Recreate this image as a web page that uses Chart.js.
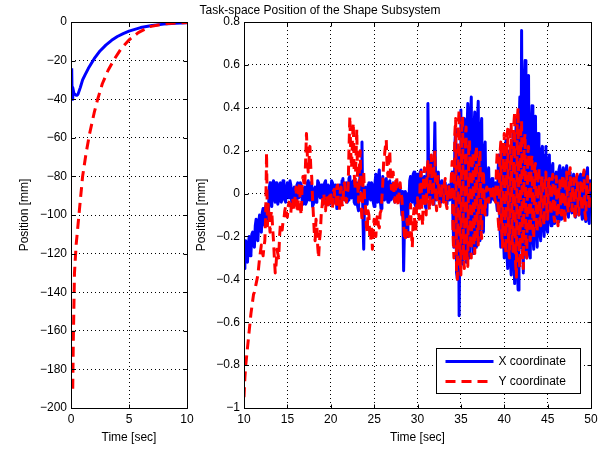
<!DOCTYPE html>
<html>
<head>
<meta charset="utf-8">
<script src="https://cdn.jsdelivr.net/npm/chart.js@4.4.1/dist/chart.umd.min.js"></script>
<style>
  body { margin: 0; background: #fff; }
  #wrap { position: relative; width: 611px; height: 450px; overflow: hidden; }
  #title { position: absolute; left: 0; top: 3px; width: 640px; text-align: center;
           font: 12px "Liberation Sans", Arial, sans-serif; line-height: 14px; color: #000; }
  #left { position: absolute; left: 0; top: 0; }
  #right { position: absolute; left: 160px; top: 0; }
</style>
</head>
<body>
<div id="wrap">
  <canvas id="left" width="200" height="450"></canvas>
  <canvas id="right" width="451" height="450"></canvas>
  <div id="title">Task-space Position of the Shape Subsystem</div>
</div>
<script>
// --- left panel: start-up transient (0..10 s) ---
var leftXTime = [0.06, 0.1, 0.15, 0.25, 0.4, 0.5, 0.6, 0.8, 1.0, 1.2, 1.5, 2.0, 2.5, 3.0, 3.5, 4.0, 4.5, 5.0, 6.0, 7.0, 8.0, 9.0, 10.0];
var leftX = [-24, -40, -34, -37, -37.8, -38, -37.5, -34, -30, -27.5, -24, -19, -15, -12, -9.5, -7.5, -6, -4.7, -2.9, -1.8, -1.1, -0.7, -0.4];

var leftYTime = [0.15, 0.2, 0.3, 0.45, 0.7, 1.0, 1.3, 1.6, 2.0, 2.3, 2.7, 3.2, 3.7, 4.3, 5.0, 5.8, 6.8, 8.0, 9.0, 10.0];
var leftY = [-190, -165, -130, -115, -99, -80, -68, -58, -47, -40, -32, -25, -19.6, -14, -9.3, -5.5, -2.4, -1, -0.5, -0.2];

// --- right panel: 10..50 s, one sample every 0.1 s (one row = one second) ---
var rightStart = 10;
var rightStep = 0.1;
var rightX = [
  -0.35, -0.26, -0.22, -0.31, -0.32, -0.24, -0.20, -0.29, -0.28, -0.19,
  -0.18, -0.24, -0.25, -0.15, -0.12, -0.21, -0.22, -0.13, -0.10, -0.17,
  -0.18, -0.09, -0.07, -0.14, -0.15, -0.06, -0.05, -0.11, -0.12, 0.02,
  0.05, -0.04, -0.06, 0.03, 0.06, -0.02, -0.04, 0.05, 0.04, -0.05,
  -0.03, 0.04, 0.05, -0.04, -0.02, 0.06, 0.04, -0.03, -0.04, 0.03,
  0.05, -0.01, -0.02, 0.06, 0.04, -0.04, -0.05, 0.02, 0.03, -0.04,
  -0.03, 0.04, 0.05, -0.02, -0.01, 0.05, 0.04, -0.03, -0.05, 0.02,
  0.03, -0.05, -0.04, 0.05, 0.06, -0.03, -0.02, 0.05, 0.04, -0.06,
  -0.05, 0.02, 0.03, -0.04, -0.03, 0.06, 0.05, -0.01, -0.02, 0.04,
  0.04, -0.05, -0.03, 0.05, 0.06, -0.02, -0.04, 0.04, 0.03, -0.05,
  -0.02, 0.06, 0.05, -0.03, -0.04, 0.04, 0.03, -0.07, -0.06, 0.02,
  0.04, -0.03, -0.02, 0.06, 0.07, -0.01, -0.03, 0.04, 0.05, -0.04,
  -0.03, 0.07, 0.08, -0.01, -0.02, 0.05, 0.06, -0.04, -0.05, 0.03,
  0.05, -0.06, -0.08, 0.04, 0.10, 0.02, 0.24, -0.10, -0.26, -0.02,
  0.03, -0.04, -0.05, 0.04, 0.05, -0.02, -0.03, 0.05, 0.04, -0.04,
  -0.06, 0.05, 0.09, -0.02, -0.04, 0.08, 0.11, -0.03, -0.07, 0.04,
  0.08, -0.02, -0.03, 0.06, 0.07, -0.02, -0.04, 0.05, 0.06, -0.03,
  -0.02, 0.04, 0.05, -0.03, -0.04, 0.05, 0.06, -0.02, -0.03, 0.04,
  0.02, -0.04, -0.10, 0.01, -0.36, -0.15, 0.01, -0.08, -0.20, 0.00,
  -0.05, 0.06, 0.08, -0.03, -0.04, 0.09, 0.10, -0.05, -0.06, 0.07,
  0.09, -0.04, -0.05, 0.10, 0.11, -0.02, -0.03, 0.06, 0.08, -0.06,
  -0.07, 0.10, 0.42, 0.05, -0.02, 0.12, 0.15, -0.03, -0.05, 0.10,
  0.33, 0.02, -0.03, 0.08, 0.10, -0.02, -0.04, 0.05, 0.06, -0.02,
  -0.03, 0.04, 0.05, -0.04, -0.05, 0.03, 0.04, -0.03, -0.02, 0.06,
  0.10, -0.15, -0.25, 0.22, 0.30, -0.37, -0.40, 0.20, -0.57, -0.10,
  0.39, -0.25, -0.33, 0.30, 0.35, -0.20, -0.32, 0.28, 0.42, -0.15,
  -0.30, 0.35, 0.45, -0.18, -0.28, 0.30, 0.38, -0.20, -0.25, 0.32,
  0.43, -0.15, -0.22, 0.30, 0.35, -0.12, -0.18, 0.20, 0.24, -0.08,
  -0.10, 0.08, 0.12, -0.02, -0.04, 0.06, 0.07, -0.02, -0.03, 0.04,
  0.05, -0.04, -0.08, 0.12, 0.18, -0.15, -0.25, 0.15, 0.22, -0.20,
  -0.30, 0.18, 0.25, -0.28, -0.35, 0.15, 0.20, -0.30, -0.38, 0.22,
  0.28, -0.30, -0.42, 0.25, 0.35, -0.35, -0.45, 0.30, 0.45, -0.25,
  0.76, -0.20, -0.37, 0.50, 0.62, -0.22, -0.30, 0.45, 0.55, -0.28,
  -0.30, 0.30, 0.41, -0.20, -0.26, 0.30, 0.36, -0.18, -0.25, 0.28,
  0.24, -0.18, -0.22, 0.20, 0.22, -0.15, -0.20, 0.18, 0.22, -0.16,
  -0.18, 0.15, 0.18, -0.12, -0.15, 0.12, 0.14, -0.10, -0.14, 0.08,
  0.10, -0.10, -0.13, 0.11, 0.13, -0.08, -0.12, 0.10, 0.12, -0.08,
  -0.10, 0.10, 0.13, -0.08, -0.11, 0.08, 0.10, -0.07, -0.09, 0.07,
  0.09, -0.08, -0.11, 0.06, 0.08, -0.07, -0.10, 0.07, 0.09, -0.08,
  -0.12, 0.08, 0.10, -0.10, -0.13, 0.09, 0.12, -0.11, -0.14, 0.06,
  0.02
];
var rightY = [
  -0.95, -0.86, -0.80, -0.76, -0.72, -0.68, -0.64, -0.60, -0.56, -0.53,
  -0.50, -0.47, -0.46, -0.44, -0.42, -0.40, -0.38, -0.34, -0.30, -0.27,
  -0.24, -0.27, -0.29, -0.25, -0.22, -0.10, 0.19, -0.15, -0.05, -0.12,
  -0.18, -0.10, -0.08, -0.16, -0.22, -0.30, -0.37, -0.33, -0.26, -0.28,
  -0.30, -0.20, -0.14, -0.16, -0.17, -0.13, -0.12, -0.08, -0.06, -0.09,
  -0.11, -0.06, -0.04, -0.08, -0.09, -0.03, -0.02, -0.06, -0.08, -0.01,
  0.03, -0.06, -0.09, 0.02, 0.05, -0.07, -0.10, 0.04, 0.08, 0.05,
  0.03, 0.15, 0.28, 0.18, 0.10, 0.16, 0.22, 0.12, 0.08, -0.02,
  -0.10, -0.18, -0.22, -0.12, -0.15, -0.25, -0.30, -0.22, -0.18, -0.10,
  -0.06, -0.01, 0.00, -0.06, -0.08, -0.01, -0.02, -0.07, -0.06, 0.00,
  0.01, -0.05, -0.07, 0.01, 0.02, -0.04, -0.05, 0.03, 0.04, -0.05,
  -0.08, 0.01, 0.03, -0.05, -0.06, 0.04, 0.05, -0.02, -0.04, 0.00,
  0.02, 0.20, 0.36, 0.20, 0.12, 0.25, 0.33, 0.10, 0.02, 0.15,
  0.30, 0.05, -0.04, 0.12, 0.20, -0.05, -0.13, 0.03, 0.10, -0.02,
  -0.06, -0.15, -0.18, -0.08, -0.10, -0.20, -0.22, -0.15, -0.26, -0.16,
  -0.12, -0.18, -0.20, -0.12, -0.10, -0.15, -0.16, -0.09, -0.08, -0.02,
  0.05, 0.15, 0.18, 0.22, 0.25, 0.12, 0.08, 0.16, 0.20, 0.08,
  0.02, 0.08, 0.10, -0.02, -0.04, 0.06, 0.08, -0.03, -0.06, 0.02,
  0.05, 0.00, -0.02, -0.10, -0.15, -0.20, -0.22, -0.16, -0.12, -0.18,
  -0.20, -0.10, -0.05, -0.18, -0.25, -0.12, -0.07, -0.15, -0.18, -0.06,
  -0.02, -0.08, -0.12, 0.05, 0.10, -0.10, -0.15, 0.08, 0.12, -0.05,
  -0.10, 0.10, 0.15, -0.04, -0.08, 0.12, 0.18, -0.02, -0.05, 0.12,
  0.20, -0.02, -0.08, 0.05, 0.08, -0.04, -0.06, 0.04, 0.05, -0.03,
  -0.04, 0.05, 0.07, -0.05, -0.07, 0.03, 0.04, -0.02, -0.03, 0.08,
  0.15, -0.20, -0.30, 0.28, 0.35, -0.35, -0.40, 0.32, 0.39, -0.30,
  -0.38, 0.30, 0.36, -0.28, -0.35, 0.26, 0.31, -0.28, -0.34, 0.22,
  0.25, -0.26, -0.30, 0.15, 0.19, -0.24, -0.28, 0.18, 0.22, -0.20,
  -0.24, 0.15, 0.20, -0.16, -0.21, 0.08, 0.11, -0.06, -0.10, 0.02,
  0.03, -0.02, -0.04, 0.02, 0.02, -0.02, -0.03, 0.02, 0.03, -0.02,
  -0.04, 0.12, 0.20, -0.12, -0.18, 0.18, 0.24, -0.18, -0.25, 0.22,
  0.28, -0.22, -0.28, 0.25, 0.30, -0.25, -0.30, 0.28, 0.33, -0.22,
  -0.27, 0.32, 0.38, -0.32, -0.39, 0.35, 0.40, -0.30, -0.35, 0.28,
  0.34, -0.28, -0.35, 0.24, 0.28, -0.25, -0.30, 0.18, 0.22, -0.18,
  -0.22, 0.15, 0.18, -0.16, -0.21, 0.12, 0.14, -0.14, -0.18, 0.10,
  0.12, -0.12, -0.15, 0.06, 0.08, -0.12, -0.15, 0.08, 0.10, -0.08,
  -0.12, 0.05, 0.07, -0.08, -0.10, 0.06, 0.09, -0.10, -0.13, 0.06,
  0.08, -0.12, -0.15, 0.04, 0.06, -0.08, -0.10, 0.07, 0.09, -0.10,
  -0.14, 0.08, 0.10, -0.06, -0.09, 0.10, 0.12, -0.05, -0.08, 0.05,
  0.07, -0.09, -0.12, 0.07, 0.09, -0.07, -0.10, 0.03, 0.05, -0.05,
  -0.08, 0.08, 0.11, -0.09, -0.12, 0.06, 0.08, -0.04, -0.06, 0.03,
  0.05
];

var seriesNames = ['X coordinate', 'Y coordinate'];
var xLabel = 'Time [sec]';
var yLabel = 'Position [mm]';

Chart.defaults.font.family = '"Liberation Sans", Arial, sans-serif';
Chart.defaults.font.size = 12;
Chart.defaults.color = '#000';

function pairs(times, values) {
  return values.map(function(v, i) { return { x: times[i], y: v }; });
}
function stepPairs(start, step, values) {
  return values.map(function(v, i) { return { x: start + i * step, y: v }; });
}
function tickText(v) {
  var r = Math.round(v * 10) / 10;
  if (r === 0) return '0';
  var s = String(Math.abs(r));
  return r < 0 ? '\u2212' + s : s;
}

// matlab style box with inward ticks on all four sides
var boxPlugin = {
  id: 'matlabBox',
  afterDraw: function(chart) {
    var ctx = chart.ctx, a = chart.chartArea;
    var xs = chart.scales.x, ys = chart.scales.y;
    var L = Math.round(a.left) + 0.5, R = Math.round(a.right) + 0.5;
    var T = Math.round(a.top) + 0.5, B = Math.round(a.bottom) + 0.5;
    ctx.save();
    ctx.strokeStyle = '#000';
    ctx.lineWidth = 1;
    ctx.beginPath();
    xs.ticks.forEach(function(t) {
      var p = Math.round(xs.getPixelForValue(t.value)) + 0.5;
      ctx.moveTo(p, B); ctx.lineTo(p, B - 4);
      ctx.moveTo(p, T); ctx.lineTo(p, T + 4);
    });
    ys.ticks.forEach(function(t) {
      var p = Math.round(ys.getPixelForValue(t.value)) + 0.5;
      ctx.moveTo(L, p); ctx.lineTo(L + 4, p);
      ctx.moveTo(R, p); ctx.lineTo(R - 4, p);
    });
    ctx.rect(L, T, R - L, B - T);
    ctx.stroke();
    ctx.restore();
  }
};

// legend box in the lower right corner of the right axes
var legendPlugin = {
  id: 'matlabLegend',
  afterDraw: function(chart) {
    var ctx = chart.ctx, a = chart.chartArea;
    var x0 = Math.round(a.right) - 155 + 0.5, y0 = Math.round(a.bottom) - 60 + 0.5;
    ctx.save();
    ctx.fillStyle = '#fff';
    ctx.fillRect(x0, y0, 144, 45);
    ctx.strokeStyle = '#000';
    ctx.lineWidth = 1;
    ctx.strokeRect(x0, y0, 144, 45);
    chart.data.datasets.forEach(function(ds, i) {
      var y = y0 + 13 + i * 20;
      ctx.strokeStyle = ds.borderColor;
      ctx.lineWidth = ds.borderWidth;
      ctx.setLineDash(ds.borderDash || []);
      ctx.beginPath();
      ctx.moveTo(x0 + 9, y);
      ctx.lineTo(x0 + 57, y);
      ctx.stroke();
      ctx.setLineDash([]);
      ctx.fillStyle = '#000';
      ctx.font = '12px "Liberation Sans", Arial, sans-serif';
      ctx.textBaseline = 'middle';
      ctx.fillText(ds.label, x0 + 62, y + 0.5);
    });
    ctx.restore();
  }
};

function axisOptions(min, max, step, fitSize, isX, titlePad) {
  return {
    type: 'linear',
    min: min,
    max: max,
    border: { display: false, dash: [1, 3] },
    grid: { color: '#000', lineWidth: 1, drawTicks: false },
    ticks: { stepSize: step, padding: 4, maxRotation: 0, autoSkip: false, callback: tickText },
    title: {
      display: true,
      text: isX ? xLabel : yLabel,
      font: { size: 12 },
      padding: isX ? { top: 0, bottom: titlePad } : { top: titlePad, bottom: 0 }
    },
    afterFit: function(s) {
      if (isX) { s.height = fitSize; } else { s.width = fitSize; }
    }
  };
}

function makeDatasets(xData, yData) {
  return [
    { label: seriesNames[0], data: xData, borderColor: '#0000ff', borderWidth: 3,
      borderJoinStyle: 'round', pointRadius: 0, fill: false, order: 2 },
    { label: seriesNames[1], data: yData, borderColor: '#ff0000', borderWidth: 3,
      borderDash: [10, 6], borderJoinStyle: 'round', pointRadius: 0, fill: false, order: 1 }
  ];
}

function commonOptions(pad, xAxis, yAxis) {
  return {
    responsive: false,
    devicePixelRatio: 1,
    animation: false,
    parsing: false,
    layout: { padding: pad },
    plugins: { legend: { display: false }, tooltip: { enabled: false }, title: { display: false } },
    scales: { x: xAxis, y: yAxis }
  };
}

var leftChart = new Chart(document.getElementById('left'), {
  type: 'line',
  data: { datasets: makeDatasets(pairs(leftXTime, leftX), pairs(leftYTime, leftY)) },
  options: commonOptions({ left: 0, right: 13, top: 22, bottom: 0 },
    axisOptions(0, 10, 5, 42, true, 5),
    axisOptions(-200, 0, 20, 71, false, 17)),
  plugins: [boxPlugin]
});

var rightChart = new Chart(document.getElementById('right'), {
  type: 'line',
  data: { datasets: makeDatasets(stepPairs(rightStart, rightStep, rightX), stepPairs(rightStart, rightStep, rightY)) },
  options: commonOptions({ left: 0, right: 20, top: 22, bottom: 0 },
    axisOptions(10, 50, 5, 42, true, 5),
    axisOptions(-1, 0.8, 0.2, 84, false, 34)),
  plugins: [boxPlugin, legendPlugin]
});
</script>
</body>
</html>
